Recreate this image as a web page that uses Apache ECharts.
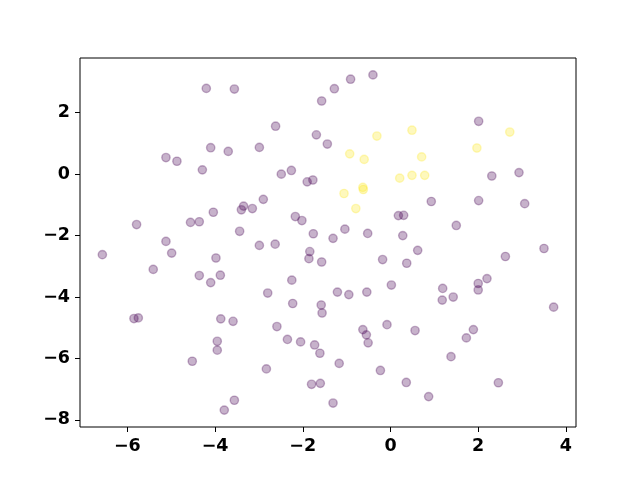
<!DOCTYPE html>
<html>
<head>
<meta charset="utf-8">
<script src="https://cdn.jsdelivr.net/npm/echarts@6.0.0/dist/echarts.min.js"></script>
<style>
  html, body { margin: 0; padding: 0; background: #fff; }
  #scatter { width: 640px; height: 480px; }
</style>
</head>
<body>
<div id="scatter"></div>
<script>
'use strict';
// class 0 points (purple)
const purpleX = [-4.20, -3.56, -4.10, -3.70, -5.12, -4.87, -4.29, -3.35, -3.40, -4.04,
    -5.79, -4.56, -4.36, -3.44, -5.12, -0.40, -0.91, -1.28, -1.57, -2.62,
    -1.69, -1.44, -2.99, -2.49, -2.26, -1.90, -1.77, -2.90, -3.15, -2.17,
    -2.02, -1.76, -1.31, -1.04, -0.52, 0.28, 0.18, 0.30, -2.99, -2.63,
    2.01, 2.31, 2.93, 0.93, 2.01, 3.06, 1.50, -6.57, -4.99, -5.41,
    -3.98, -4.36, -4.10, -3.88, -5.85, -5.75, -3.87, -3.59, -3.95, -3.95,
    -4.52, -3.56, -3.79, -1.84, -1.86, -1.57, -0.18, 0.37, -2.25, -2.80,
    -2.23, -1.21, -0.95, -0.54, 0.02, -1.58, -1.56, -2.59, -2.35, -2.05,
    -1.73, -1.61, -0.63, -0.55, -0.51, -0.08, 0.56, -2.83, -1.17, -0.23,
    0.36, -1.80, -1.60, -1.31, 0.62, 2.62, 3.50, 2.20, 2.00, 2.00,
    1.19, 1.18, 1.43, 3.72, 1.89, 1.73, 1.38, 2.46, 0.87];
const purpleY = [2.79, 2.77, 0.86, 0.74, 0.54, 0.42, 0.14, -1.04, -1.16, -1.24,
    -1.64, -1.57, -1.55, -1.86, -2.19, 3.23, 3.09, 2.78, 2.38, 1.56,
    1.28, 0.98, 0.87, 0.00, 0.12, -0.25, -0.19, -0.82, -1.12, -1.38,
    -1.51, -1.94, -2.09, -1.79, -1.93, -2.00, -1.35, -1.34, -2.32, -2.28,
    1.72, -0.06, 0.05, -0.89, -0.86, -0.96, -1.67, -2.62, -2.57, -3.10,
    -2.73, -3.30, -3.53, -3.29, -4.70, -4.68, -4.71, -4.79, -5.44, -5.73,
    -6.09, -7.36, -7.68, -2.52, -2.75, -2.86, -2.78, -2.90, -3.45, -3.87,
    -4.21, -3.84, -3.92, -3.84, -3.61, -4.26, -4.52, -4.96, -5.38, -5.46,
    -5.56, -5.83, -5.06, -5.23, -5.49, -4.90, -5.09, -6.34, -6.16, -6.39,
    -6.78, -6.84, -6.81, -7.45, -2.48, -2.68, -2.42, -3.40, -3.56, -3.77,
    -3.72, -4.10, -4.00, -4.33, -5.06, -5.33, -5.94, -6.79, -7.24];
// class 1 points (yellow)
const yellowX = [-0.31, 0.49, -0.93, -0.60, 0.21, 0.49, -0.63, -0.62, -1.06, -0.79,
    2.72, 1.97, 0.71, 0.78];
const yellowY = [1.24, 1.43, 0.66, 0.48, -0.13, -0.04, -0.43, -0.50, -0.63, -1.12,
    1.37, 0.85, 0.56, -0.04];
const xTicks = [-6, -4, -2, 0, 2, 4];
const yTicks = [-8, -6, -4, -2, 0, 2];

function zip(xs, ys) {
    return xs.map((x, i) => [x, ys[i]]);
}
// matplotlib style minus sign
function tickText(v) {
    return String(v).replace('-', '\u2212');
}

const chart = echarts.init(document.getElementById('scatter'), null, {renderer: 'canvas'});

const axisCommon = {
    type: 'value',
    axisLine: {show: false, onZero: false},
    splitLine: {show: false},
    axisTick: {
        show: true,
        inside: false,
        length: 5,
        lineStyle: {color: '#000', width: 1}
    },
    axisLabel: {
        color: '#000',
        fontFamily: 'DejaVu Sans',
        fontWeight: 'bold',
        fontSize: 17.5,
        margin: 10,
        formatter: tickText
    }
};

const dotStyle = (c) => ({
    color: c,
    borderColor: c,
    borderWidth: 1.4,
    opacity: 0.3
});

const option = {
    animation: false,
    backgroundColor: '#fff',
    grid: {
        left: 80,
        top: 58,
        width: 496,
        height: 369,
        show: true,
        borderColor: '#000',
        borderWidth: 1,
        backgroundColor: 'transparent'
    },
    xAxis: Object.assign({}, axisCommon, {
        position: 'bottom',
        min: -7.08,
        max: 4.23,
        axisTick: Object.assign({}, axisCommon.axisTick, {customValues: xTicks}),
        axisLabel: Object.assign({}, axisCommon.axisLabel, {customValues: xTicks})
    }),
    yAxis: Object.assign({}, axisCommon, {
        position: 'left',
        min: -8.23,
        max: 3.78,
        axisTick: Object.assign({}, axisCommon.axisTick, {customValues: yTicks}),
        axisLabel: Object.assign({}, axisCommon.axisLabel, {customValues: yTicks})
    }),
    series: [
        {
            name: 'class 0',
            type: 'scatter',
            symbol: 'circle',
            symbolSize: 8.3,
            silent: true,
            itemStyle: dotStyle('#440154'),
            data: zip(purpleX, purpleY)
        },
        {
            name: 'class 1',
            type: 'scatter',
            symbol: 'circle',
            symbolSize: 8.3,
            silent: true,
            itemStyle: dotStyle('#fde725'),
            data: zip(yellowX, yellowY)
        }
    ]
};
chart.setOption(option);
</script>
</body>
</html>
